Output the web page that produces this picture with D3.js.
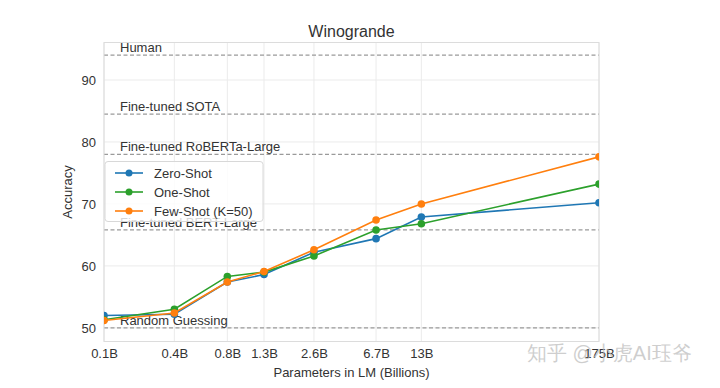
<!DOCTYPE html>
<html>
<head>
<meta charset="utf-8">
<script src="https://cdn.jsdelivr.net/npm/d3@7"></script>
<style>
  body { margin: 0; background: #fff; }
  svg text { font-family: "Liberation Sans", Arial, sans-serif; fill: #333; }
</style>
</head>
<body>
<svg id="chart" width="720" height="388"></svg>
<script>
// data
let params = [0.125, 0.35, 0.76, 1.3, 2.7, 6.7, 13, 175]
let tickLabels = ['0.1B', '0.4B', '0.8B', '1.3B', '2.6B', '6.7B', '13B', '175B']
let zeroShot = [52.0, 52.2, 57.4, 58.6, 62.2, 64.4, 67.9, 70.2]
let oneShot = [51.3, 53.0, 58.3, 59.0, 61.6, 65.8, 66.8, 73.2]
let fewShot = [51.2, 52.4, 57.4, 59.1, 62.6, 67.4, 70.0, 77.6]
let refLabels = ['Human', 'Fine-tuned SOTA', 'Fine-tuned RoBERTa-Large', 'Fine-tuned BERT-Large', 'Random Guessing']
let refValues = [94.0, 84.5, 78.0, 65.8, 50.0]
let yTicks = [50, 60, 70, 80, 90]

let series = [
    {name: 'Zero-Shot', values: zeroShot, color: '#1f77b4'},
    {name: 'One-Shot', values: oneShot, color: '#2ca02c'},
    {name: 'Few-Shot (K=50)', values: fewShot, color: '#ff7f0e'}
]

let pLeft = 104, pRight = 599, pTop = 42.5, pBottom = 341.5
let svg = d3.select('#chart')

let x = d3.scaleLog().domain([0.125, 175]).range([pLeft, pRight])
let y = d3.scaleLinear().domain([47.8, 96.05]).range([pBottom, pTop])

// clip
svg.append('clipPath').attr('id', 'plot-clip')
    .append('rect').attr('x', pLeft).attr('y', pTop).attr('width', pRight - pLeft).attr('height', pBottom - pTop)

// grid
let grid = svg.append('g')
grid.selectAll('line.gy').data(yTicks).join('line')
    .attr('x1', pLeft).attr('x2', pRight)
    .attr('y1', d => y(d)).attr('y2', d => y(d))
    .attr('stroke', '#ebebeb').attr('stroke-width', 1)
grid.selectAll('line.gx').data(params).join('line')
    .attr('x1', d => x(d)).attr('x2', d => x(d))
    .attr('y1', pTop).attr('y2', pBottom)
    .attr('stroke', '#ebebeb').attr('stroke-width', 1)

// reference lines
let refs = svg.append('g')
refValues.forEach((v, i) => {
    refs.append('line')
        .attr('x1', pLeft).attr('x2', pRight)
        .attr('y1', y(v)).attr('y2', y(v))
        .attr('stroke', '#9a9a9a').attr('stroke-width', 1.2)
        .attr('stroke-dasharray', '4,2.5')
    refs.append('text')
        .attr('x', 120).attr('y', y(v) - 3)
        .attr('font-size', 13)
        .text(refLabels[i])
})

// plot border
svg.append('rect')
    .attr('x', pLeft).attr('y', pTop).attr('width', pRight - pLeft).attr('height', pBottom - pTop)
    .attr('fill', 'none').attr('stroke', '#dcdcdc').attr('stroke-width', 1)

// series
let line = d3.line().x((d, i) => x(params[i])).y(d => y(d))
let plot = svg.append('g').attr('clip-path', 'url(#plot-clip)')
series.forEach(s => {
    plot.append('path').datum(s.values)
        .attr('d', line).attr('fill', 'none')
        .attr('stroke', s.color).attr('stroke-width', 1.6)
    plot.selectAll(null).data(s.values).join('circle')
        .attr('cx', (d, i) => x(params[i])).attr('cy', d => y(d))
        .attr('r', 3.8).attr('fill', s.color)
})

// axes
let xAxis = svg.append('g').attr('transform', 'translate(0,' + pBottom + ')')
    .call(d3.axisBottom(x).tickValues(params).tickFormat((d, i) => tickLabels[i]).tickSize(0).tickPadding(7))
let yAxis = svg.append('g').attr('transform', 'translate(' + pLeft + ',0)')
    .call(d3.axisLeft(y).tickValues(yTicks).tickSize(0).tickPadding(8))
xAxis.select('.domain').remove()
yAxis.select('.domain').remove()
svg.selectAll('.tick text').attr('font-size', 13).attr('fill', '#2b2b2b')
    .attr('font-family', '"Liberation Sans", Arial, sans-serif')

// titles
svg.append('text').attr('x', (pLeft + pRight) / 2).attr('y', 37)
    .attr('text-anchor', 'middle').attr('font-size', 16).text('Winogrande')
svg.append('text').attr('x', (pLeft + pRight) / 2).attr('y', 377)
    .attr('text-anchor', 'middle').attr('font-size', 13).text('Parameters in LM (Billions)')
svg.append('text').attr('transform', 'translate(72,' + ((pTop + pBottom) / 2) + ') rotate(-90)')
    .attr('text-anchor', 'middle').attr('font-size', 13).text('Accuracy')

// legend
let lg = svg.append('g')
lg.append('rect').attr('x', 105).attr('y', 161.5).attr('width', 158).attr('height', 60)
    .attr('rx', 3).attr('fill', 'rgba(255,255,255,0.8)').attr('stroke', '#d8d8d8')
series.forEach((s, i) => {
    let ly = 173 + i * 19
    lg.append('line').attr('x1', 115).attr('x2', 143).attr('y1', ly).attr('y2', ly)
        .attr('stroke', s.color).attr('stroke-width', 1.6)
    lg.append('circle').attr('cx', 129).attr('cy', ly).attr('r', 3.5).attr('fill', s.color)
    lg.append('text').attr('x', 154).attr('y', ly + 4.5).attr('font-size', 13).text(s.name)
})

// watermark
svg.append('text').attr('x', 527).attr('y', 360).attr('font-size', 20)
    .attr('font-family', '"Noto Sans CJK SC", sans-serif')
    .style('fill', 'rgba(185,185,185,0.7)').text('知乎 @小虎AI珏爷')
</script>
</body>
</html>
